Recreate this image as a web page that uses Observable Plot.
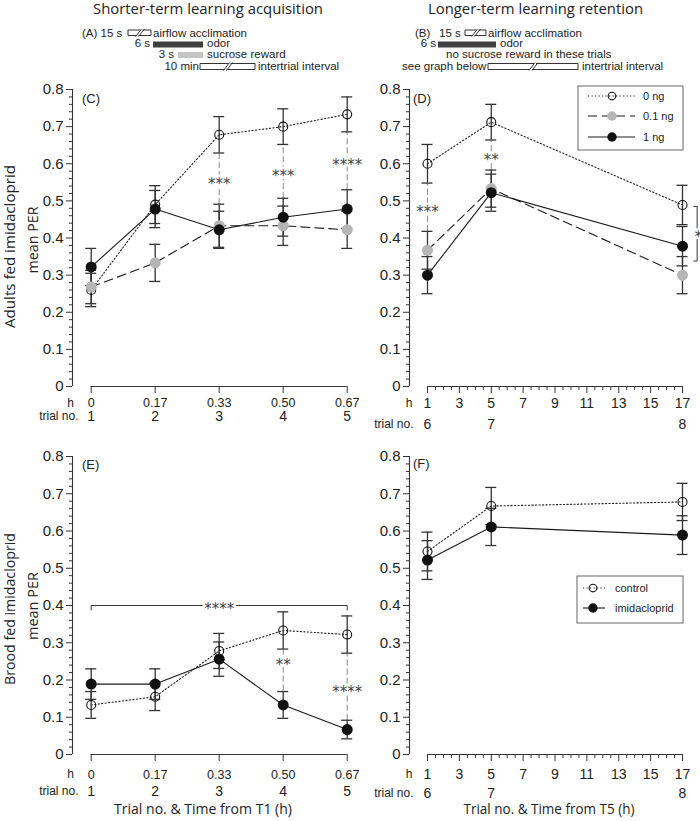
<!DOCTYPE html>
<html><head><meta charset="utf-8">
<script src="https://cdn.jsdelivr.net/npm/d3@7"></script>
<script src="https://cdn.jsdelivr.net/npm/@observablehq/plot@0.6"></script>
<style>
body{margin:0;background:#fff;}
#wrap{position:relative;width:700px;height:821px;overflow:hidden;background:#fff;}
.panel{position:absolute;}
.panel svg{overflow:visible;}
</style></head><body><div id="wrap"></div>
<script>
// ---------- data ----------
const trialsA = [1, 2, 3, 4, 5];
const hoursA = ["0", "0.17", "0.33", "0.50", "0.67"];
const trialsB = [6, 7, 8];
const hoursB = [1, 5, 17];
const hourTicksB = [1, 3, 5, 7, 9, 11, 13, 15, 17];
const yTicks = [0, 0.1, 0.2, 0.3, 0.4, 0.5, 0.6, 0.7, 0.8];
const yTickLabels = ["0", "0.1", "0.2", "0.3", "0.4", "0.5", "0.6", "0.7", "0.8"];

// (C) adults, acquisition
const adultAcq0 = [0.26, 0.49, 0.678, 0.70, 0.733];
const adultAcq0se = [0.045, 0.051, 0.049, 0.048, 0.047];
const adultAcq01 = [0.268, 0.333, 0.433, 0.433, 0.422];
const adultAcq01se = [0.045, 0.05, 0.058, 0.053, 0.05];
const adultAcq1 = [0.322, 0.478, 0.422, 0.456, 0.478];
const adultAcq1se = [0.05, 0.05, 0.05, 0.051, 0.052];
// (D) adults, retention
const adultRet0 = [0.60, 0.712, 0.489];
const adultRet0se = [0.052, 0.048, 0.053];
const adultRet01 = [0.367, 0.533, 0.30];
const adultRet01se = [0.051, 0.05, 0.05];
const adultRet1 = [0.30, 0.522, 0.378];
const adultRet1se = [0.05, 0.05, 0.053];
// (E) brood, acquisition
const broodAcqCtrl = [0.133, 0.155, 0.278, 0.333, 0.322];
const broodAcqCtrlse = [0.036, 0.037, 0.047, 0.05, 0.05];
const broodAcqImid = [0.189, 0.189, 0.256, 0.133, 0.067];
const broodAcqImidse = [0.041, 0.041, 0.046, 0.036, 0.025];
// (F) brood, retention
const broodRetCtrl = [0.545, 0.667, 0.678];
const broodRetCtrlse = [0.052, 0.05, 0.05];
const broodRetImid = [0.522, 0.611, 0.589];
const broodRetImidse = [0.052, 0.05, 0.052];

// significance annotations
const sigC = [
  {x: 3, lo: 0.49, hi: 0.628, ty: 0.555, label: "***"},
  {x: 4, lo: 0.506, hi: 0.652, ty: 0.577, label: "***"},
  {x: 5, lo: 0.53, hi: 0.687, ty: 0.606, label: "****"}
];
const sigD = [
  {x: 1, lo: 0.418, hi: 0.548, ty: 0.479, label: "***"},
  {x: 5, lo: 0.584, hi: 0.663, ty: 0.62, label: "**"}
];
const sigE = [
  {x: 4, lo: 0.17, hi: 0.283, ty: 0.248, label: "**"},
  {x: 5, lo: 0.092, hi: 0.272, ty: 0.178, label: "****"}
];
const bracketE = [{x1: 1, x2: 5, y: 0.40, drop: 0.012, label: "****"}];
const bracketD = [{x1: 17.71, x2: 17.92, y1: 0.485, y2: 0.338, label: "*"}];

// ---------- styles ----------
const AX = "#333";
const FONT = "'Liberation Sans', Arial, sans-serif";
const TFONT = "'Open Sans', 'Noto Sans', sans-serif";
const ST = {
  open: {dash: "1.2,2.3", r: 4.5, fill: "none", stroke: "#111"},
  gray: {dash: "9,5", r: 5.5, fill: "#b5b5b5", stroke: "none"},
  black: {dash: null, r: 5.5, fill: "#111", stroke: "none"}
};
const yMinor = d3.range(0, 41).filter(i => i % 5 !== 0).map(i => i * 0.02);
const minorB = d3.range(2, 34).map(i => i * 0.5).filter(v => !hourTicksB.includes(v));

const rowsOf = (xs, ys, se) => xs.map((x, i) => ({x, y: ys[i], se: se[i]}));

function bracketPoints(b) {
  return [{x: b.x1, y: b.y - b.drop}, {x: b.x1, y: b.y}, {x: b.x2, y: b.y}, {x: b.x2, y: b.y - b.drop}];
}
function bracketDPoints(b) {
  return [{x: b.x1, y: b.y1}, {x: b.x2, y: b.y1}, {x: b.x2, y: b.y2}, {x: b.x1, y: b.y2}];
}

function sigMarks(sig) {
  return [
    Plot.ruleX(sig, {x: "x", y1: "lo", y2: "hi", stroke: "#8a8a8a", strokeWidth: 1, strokeDasharray: "6,3"}),
    Plot.text(sig, {x: "x", y: "ty", text: "label", dy: 3.5, fontFamily: "DejaVu Sans", fontSize: 15, fill: "#444", stroke: "white", strokeWidth: 5, paintOrder: "stroke"})
  ];
}

function buildPanel(c) {
  const k = (c.width - c.mL - c.mR) / (c.xDomain[1] - c.xDomain[0]);
  const cap = 5.5 / k;
  const x0 = c.xDomain[0];
  const m = [];
  m.push(Plot.ruleX([x0], {y1: 0, y2: 0.8, stroke: AX, strokeWidth: 1.1}));
  m.push(Plot.ruleY([0], {x1: c.span[0], x2: c.span[1], stroke: AX, strokeWidth: 1.1}));
  m.push(Plot.axisY({ticks: yMinor, tickSize: 3, fill: "none", stroke: AX, label: null}));
  m.push(Plot.axisY({ticks: yTicks, tickSize: 6, tickPadding: 3, tickFormat: d => yTickLabels[yTicks.indexOf(d)], fontSize: 15, stroke: AX, fill: "#222", label: null}));
  if (c.minorX.length) m.push(Plot.axisX({ticks: c.minorX, tickSize: 4, fill: "none", stroke: AX, label: null}));
  m.push(Plot.axisX({ticks: c.majorX, tickSize: 7, tickPadding: c.hPad, tickFormat: c.majorFmt, fontSize: c.majorFont, stroke: AX, fill: "#222", label: null}));
  m.push(Plot.axisX({ticks: c.trialX, tickSize: 0, tickPadding: c.trialPad, tickFormat: c.trialFmt, fontSize: 14, fill: "#222", label: null}));
  m.push(Plot.text(["h"], {x: x0, y: 0, dx: c.hDx, dy: c.hDy, textAnchor: "end", lineAnchor: "middle", fontSize: 12, fill: "#222"}));
  m.push(Plot.text(["trial no."], {x: x0, y: 0, dx: c.trialDx, dy: c.trialDy, textAnchor: "end", lineAnchor: "middle", fontSize: 12, fill: "#222"}));
  if (c.extra) m.push(...c.extra);
  if (c.sig) m.push(...sigMarks(c.sig));
  for (const s of c.series) m.push(Plot.line(s.rows, {x: "x", y: "y", stroke: "#1a1a1a", strokeWidth: 1.1, strokeDasharray: s.st.dash}));
  for (const s of c.series) {
    m.push(Plot.ruleX(s.rows, {x: "x", y1: d => d.y - d.se, y2: d => d.y + d.se, stroke: AX, strokeWidth: 1.3}));
    m.push(Plot.ruleY(s.rows, {y: d => d.y - d.se, x1: d => d.x - cap, x2: d => d.x + cap, stroke: AX, strokeWidth: 1.3}));
    m.push(Plot.ruleY(s.rows, {y: d => d.y + d.se, x1: d => d.x - cap, x2: d => d.x + cap, stroke: AX, strokeWidth: 1.3}));
  }
  for (const s of c.series) m.push(Plot.dot(s.rows, {x: "x", y: "y", r: s.st.r, fill: s.st.fill, stroke: s.st.stroke, strokeWidth: 1.1}));
  const svg = Plot.plot({
    width: c.width, height: c.height,
    marginLeft: c.mL, marginRight: c.mR, marginTop: c.mT, marginBottom: c.mB,
    x: {domain: c.xDomain}, y: {domain: [0, 0.8]},
    style: {background: "transparent", fontFamily: FONT, color: "#222", overflow: "visible"},
    marks: m
  });
  const div = document.createElement("div");
  div.className = "panel";
  div.style.left = c.left + "px"; div.style.top = c.top + "px";
  div.style.width = c.width + "px"; div.style.height = c.height + "px";
  div.appendChild(svg);
  document.getElementById("wrap").appendChild(div);
}

const fmtA = d => hoursA[trialsA.indexOf(d)];
const fmtTrialA = d => String(d);
const fmtB = d => String(d);
const fmtTrialB = d => String(trialsB[hoursB.indexOf(d)]);

const common = {width: 350, height: 350, mT: 9, mB: 44};
const acqGeom = {...common, left: 0, mL: 72, mR: 3.3, xDomain: [0.708, 5], span: [trialsA[0], trialsA[4]],
  minorX: [], majorX: trialsA, majorFmt: fmtA, majorFont: 12.5, trialX: trialsA, trialFmt: fmtTrialA,
  hDx: 1.5, trialDx: 6};
const retGeom = {...common, left: 350, mL: 59, mR: 18, xDomain: [1 - 18 / 15.9375, 17], span: [hourTicksB[0], hourTicksB[8]],
  minorX: minorB, majorX: hourTicksB, majorFmt: fmtB, majorFont: 14, trialX: hoursB, trialFmt: fmtTrialB,
  hDx: 3, trialDx: 4};

buildPanel({...acqGeom, top: 80, hPad: 5, hDy: 17, trialPad: 24.5, trialDy: 29.5, sig: sigC, series: [
  {rows: rowsOf(trialsA, adultAcq0, adultAcq0se), st: ST.open},
  {rows: rowsOf(trialsA, adultAcq01, adultAcq01se), st: ST.gray},
  {rows: rowsOf(trialsA, adultAcq1, adultAcq1se), st: ST.black}
]});
buildPanel({...retGeom, top: 80, hPad: 5, hDy: 17, trialPad: 33, trialDy: 38, sig: sigD, series: [
  {rows: rowsOf(hoursB, adultRet0, adultRet0se), st: ST.open},
  {rows: rowsOf(hoursB, adultRet01, adultRet01se), st: ST.gray},
  {rows: rowsOf(hoursB, adultRet1, adultRet1se), st: ST.black}
], extra: [
  Plot.line(bracketD.flatMap(bracketDPoints), {x: "x", y: "y", stroke: AX, strokeWidth: 1}),
  Plot.text(bracketD, {x: "x2", y: d => (d.y1 + d.y2) / 2, text: "label", dx: 1, dy: 3.5, fontFamily: "DejaVu Sans", fontSize: 15, fill: "#444", stroke: "white", strokeWidth: 4, paintOrder: "stroke"})
]});
buildPanel({...acqGeom, top: 447, height: 351, hPad: 8.5, hDy: 20, trialPad: 32, trialDy: 37, sig: sigE, series: [
  {rows: rowsOf(trialsA, broodAcqCtrl, broodAcqCtrlse), st: ST.open},
  {rows: rowsOf(trialsA, broodAcqImid, broodAcqImidse), st: ST.black}
], extra: [
  Plot.line(bracketE.flatMap(bracketPoints), {x: "x", y: "y", stroke: AX, strokeWidth: 1}),
  Plot.text(bracketE, {x: d => (d.x1 + d.x2) / 2, y: "y", text: "label", dy: 3.5, fontFamily: "DejaVu Sans", fontSize: 15, fill: "#444", stroke: "white", strokeWidth: 5, paintOrder: "stroke"})
]});
buildPanel({...retGeom, top: 447, height: 351, hPad: 8, hDy: 20, trialPad: 34, trialDy: 39, series: [
  {rows: rowsOf(hoursB, broodRetCtrl, broodRetCtrlse), st: ST.open},
  {rows: rowsOf(hoursB, broodRetImid, broodRetImidse), st: ST.black}
]});

// ---------- overlay: titles, protocol, legends ----------
const ov = d3.select("#wrap").append("svg").attr("width", 700).attr("height", 821)
  .style("position", "absolute").style("left", 0).style("top", 0).style("pointer-events", "none");
function txt(x, y, s, o = {}) {
  const t = ov.append("text").attr("x", x).attr("y", y).text(s)
    .attr("font-family", o.family || FONT).attr("font-size", o.size || 11.5)
    .attr("fill", o.fill || "#222").attr("text-anchor", o.anchor || "start");
  if (o.len) t.attr("textLength", o.len).attr("lengthAdjust", "spacingAndGlyphs");
  if (o.rot) t.attr("transform", `rotate(-90 ${x} ${y})`);
  return t;
}
function breakIcon(x0, x1, yt, yb) {
  const xm = (x0 + x1) / 2;
  const p = `M${xm + 1},${yt}H${x0}V${yb}H${xm - 3}M${xm - 4},${yb + 1}L${xm + 2},${yt - 1}M${xm - 1},${yb + 1}L${xm + 5},${yt - 1}M${xm + 3},${yt}H${x1}V${yb}H${xm - 1}`;
  ov.append("path").attr("d", p).attr("fill", "none").attr("stroke", "#333").attr("stroke-width", 1);
}
function bar(x, y, w, h, fill) {
  ov.append("rect").attr("x", x).attr("y", y).attr("width", w).attr("height", h).attr("fill", fill);
}

txt(208, 14, "Shorter-term learning acquisition", {family: TFONT, size: 14.5, anchor: "middle", len: 230});
txt(535.5, 14, "Longer-term learning retention", {family: TFONT, size: 14.5, anchor: "middle", len: 215});

// protocol (A)
txt(82, 36.5, "(A) 15 s"); breakIcon(128, 151, 30, 35.5); txt(153, 36.5, "airflow acclimation");
txt(150, 47, "6 s", {anchor: "end"}); bar(153, 41.5, 50, 6, "#404040"); txt(207, 47, "odor");
txt(174, 58, "3 s", {anchor: "end"}); bar(178, 52, 25, 6, "#c4c4c4"); txt(207, 58, "sucrose reward");
txt(199, 69.5, "10 min", {anchor: "end"}); breakIcon(200, 255, 63.5, 69.5); txt(258, 69.5, "intertrial interval");
// protocol (B)
txt(415, 36.5, "(B)"); txt(439, 36.5, "15 s"); breakIcon(465, 486, 30, 35.5); txt(488, 36.5, "airflow acclimation");
txt(436, 47, "6 s", {anchor: "end"}); bar(438, 41.5, 58, 6, "#404040"); txt(500, 47, "odor");
txt(446, 58, "no sucrose reward in these trials");
txt(402, 69.5, "see graph below"); breakIcon(488, 578, 63.5, 69.5); txt(582, 69.5, "intertrial interval");

// y titles
txt(15, 246.5, "Adults fed imidacloprid", {family: TFONT, size: 14.5, anchor: "middle", len: 163, rot: true});
txt(37.5, 240, "mean PER", {family: TFONT, size: 14.5, anchor: "middle", len: 67, rot: true});
txt(15, 609, "Brood fed imidacloprid", {family: TFONT, size: 14.5, anchor: "middle", len: 152, rot: true});
txt(37.5, 606, "mean PER", {family: TFONT, size: 14.5, anchor: "middle", len: 68, rot: true});

// panel labels
txt(82, 103, "(C)", {size: 13}); txt(413, 103, "(D)", {size: 13});
txt(82, 469, "(E)", {size: 13}); txt(413, 468, "(F)", {size: 13});

// x titles
txt(203, 814, "Trial no. & Time from T1 (h)", {family: TFONT, size: 14, anchor: "middle", len: 178});
txt(549, 814, "Trial no. & Time from T5 (h)", {family: TFONT, size: 14, anchor: "middle", len: 171});

// legends
function legend(x, y, w, h, entries, lx0, lx1, mx, tx) {
  ov.append("rect").attr("x", x).attr("y", y).attr("width", w).attr("height", h)
    .attr("fill", "white").attr("stroke", "#666").attr("stroke-width", 1);
  for (const e of entries) {
    ov.append("line").attr("x1", lx0).attr("x2", lx1).attr("y1", e.y).attr("y2", e.y)
      .attr("stroke", "#1a1a1a").attr("stroke-width", 1.1).attr("stroke-dasharray", e.st.dash);
    ov.append("circle").attr("cx", mx).attr("cy", e.y).attr("r", e.st.r * 0.85)
      .attr("fill", e.st.fill).attr("stroke", e.st.stroke).attr("stroke-width", 1.1);
    txt(tx, e.y + 4, e.label, {size: 11});
  }
}
legend(578, 86, 105, 64, [
  {y: 96, st: ST.open, label: "0 ng"},
  {y: 116, st: ST.gray, label: "0.1 ng"},
  {y: 137, st: ST.black, label: "1 ng"}
], 588, 635, 612, 643);
legend(577, 576, 106, 47, [
  {y: 588, st: ST.open, label: "control"},
  {y: 608, st: ST.black, label: "imidacloprid"}
], 583, 605, 593, 615);
</script></body></html>
